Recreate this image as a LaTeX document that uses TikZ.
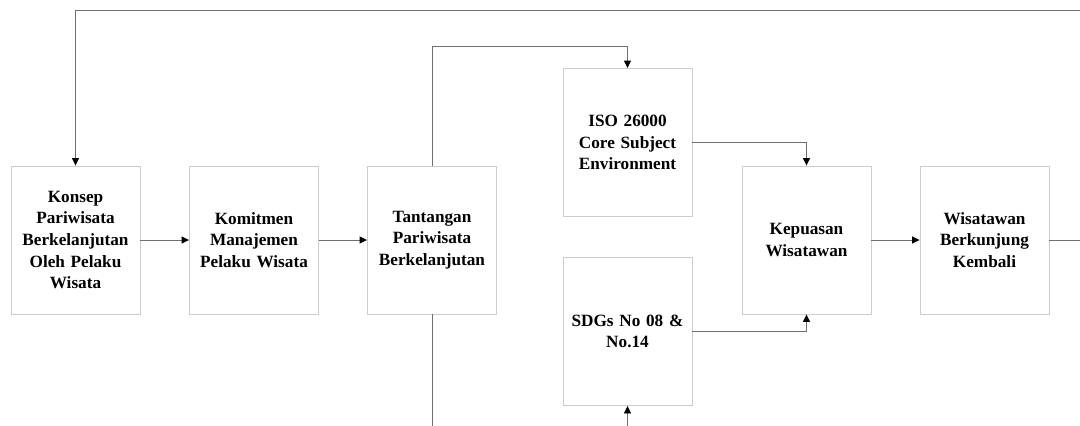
\documentclass[tikz,border=0pt]{standalone}
\usepackage{fontspec}
\setmainfont{Liberation Serif}
\usetikzlibrary{arrows.meta}
\definecolor{boxline}{HTML}{CCCCCC}
\definecolor{conn}{HTML}{707070}
\tikzset{
  blk/.style={draw=boxline, line width=0.9pt, fill=white, rectangle, minimum width=129pt, minimum height=148pt,
    inner sep=0pt, text width=127pt, align=center, font=\fontsize{17.2}{21.6}\selectfont\bfseries},
  conn/.style={draw=conn, line width=0.9pt, -{Triangle[length=7.5pt,width=7pt,fill=black,color=black]}},
}
\begin{document}
\begin{tikzpicture}[x=1pt,y=-1pt]
\clip (0,0) rectangle (1080,426);
\fill[white] (0,0) rectangle (1080,426);
\node[blk] (b1) at (75.5,240) {Konsep\\Pariwisata\\Berkelanjutan\\Oleh Pelaku\\Wisata};
\node[blk] (b2) at (254,240) {Komitmen\\Manajemen\\Pelaku Wisata};
\node[blk] (b3) at (432,240) {Tantangan\\Pariwisata\\Berkelanjutan};
\node[blk] (iso) at (627.5,142.5) {ISO 26000\\Core Subject\\Environment};
\node[blk] (sdg) at (627.5,331.5) {SDGs No 08 \&\\No.14};
\node[blk] (kep) at (806.5,240) {Kepuasan\\Wisatawan};
\node[blk] (wis) at (984.5,240) {Wisatawan\\Berkunjung\\Kembali};
\coordinate (topR) at (1090,10);
\coordinate (botR) at (600,440);
\draw[conn] (b1) -- (b2);
\draw[conn] (b2) -- (b3);
\draw[conn] (kep) -- (wis);
\draw[conn] (wis.east) -| (topR) -| (b1.north);
\draw[conn] (b3.north) |- (627.5,46) -- (iso.north);
\draw[conn] (iso.east) -| (kep.north);
\draw[conn] (sdg.east) -| (kep.south);
\draw[conn] (b3.south) |- (botR) -| (sdg.south);
\end{tikzpicture}
\end{document}
